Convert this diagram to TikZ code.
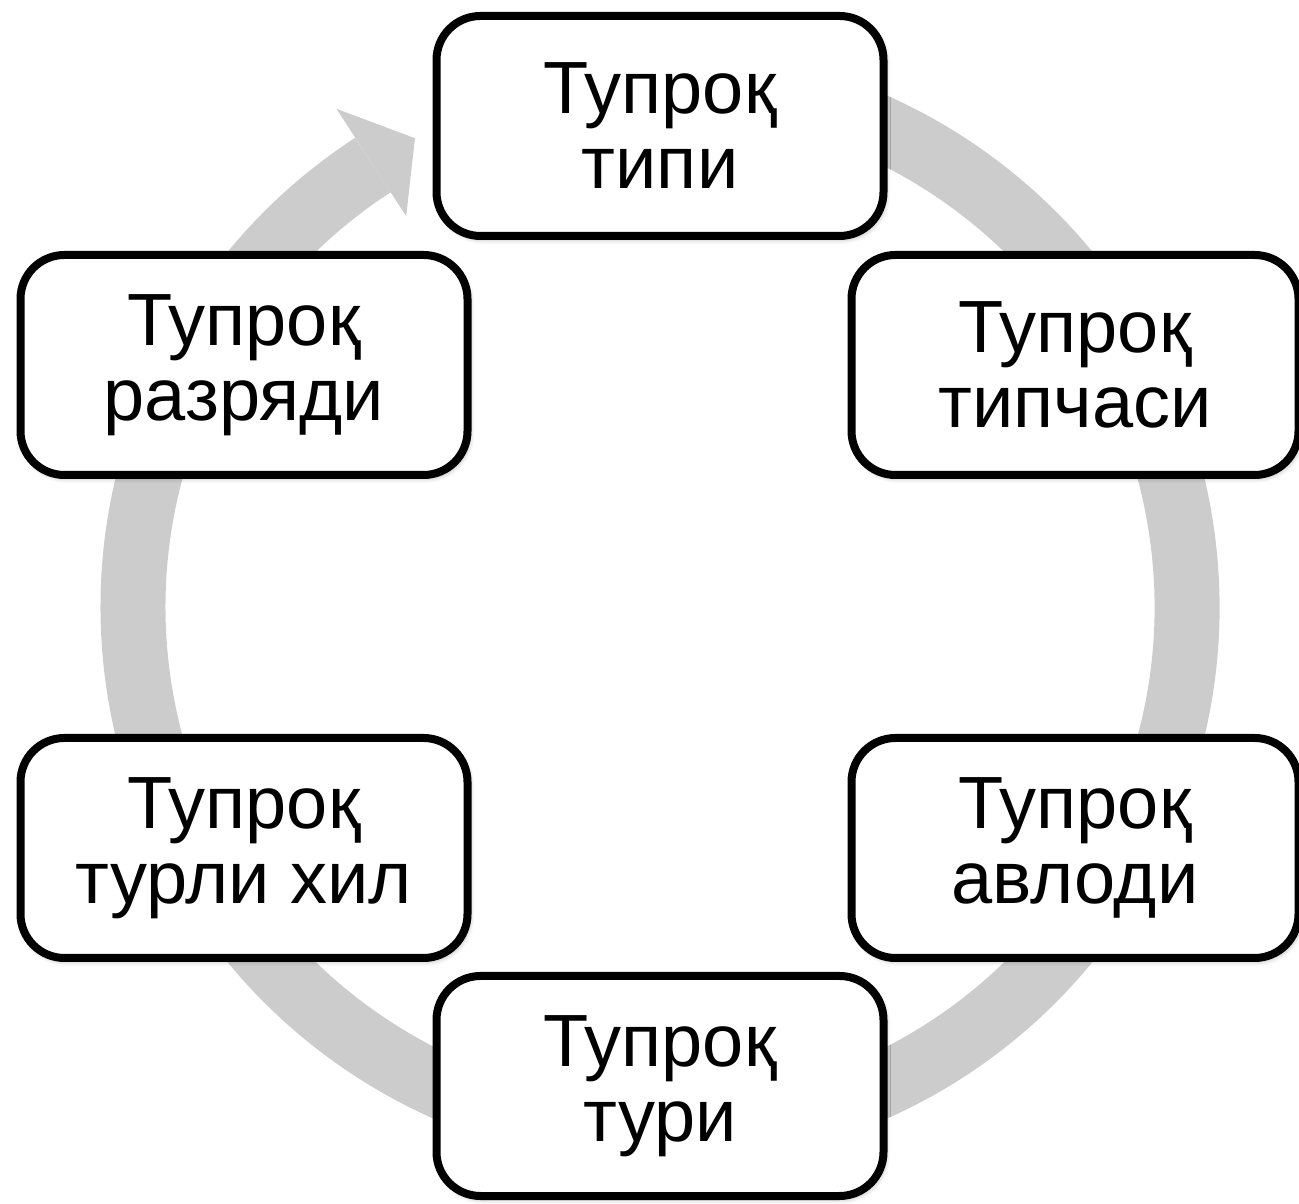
\documentclass[tikz,border=0pt]{standalone}
\usepackage{fontspec}
\setmainfont{Liberation Sans}
\usepackage{tikz}
\usetikzlibrary{positioning,shadows.blur}
\definecolor{ringgray}{RGB}{204,204,204}
\tikzset{
  ring/.style={draw=ringgray, line width=32.5pt},
  ringhead/.style={fill=ringgray},
  soilbox/.style={draw, fill=white, line width=4pt, rounded corners=22pt, align=center,
    minimum width=223.5pt, minimum height=110pt, inner sep=2pt,
    font=\fontsize{37pt}{37.5pt}\selectfont,
    blur shadow={shadow xshift=1pt, shadow yshift=-1.5pt, shadow blur radius=2.5pt, shadow opacity=35}}
}
\begin{document}
\begin{tikzpicture}[x=0.5pt, y=0.5pt]
  \useasboundingbox (0,0) rectangle (1299,1203);
  \coordinate (mid) at (660,596);

  % Ring with its arrow head
  \draw[ring] (mid) ++(100:527) arc[start angle=100, end angle=-237, radius=527];
  \fill[ringhead] (mid) ++(123:594) coordinate (hl)
    (mid) ++(117.6:529) coordinate (ht)
    (mid) ++(123:466) coordinate (hr);
  \fill[ringhead] (hl) -- (ht) -- (hr) -- cycle;

  % Six boxes round the ring
  \node[soilbox] (tip) at (660,1077) {Тупроқ\\типи};
  \node[soilbox] (tipcha) at (1075,838) {Тупроқ\\типчаси};
  \node[soilbox] (avlod) at (1075,355) {Тупроқ\\авлоди};
  \node[soilbox] (tur) at (660,117) {Тупроқ\\тури};
  \node[soilbox] (xil) at (244,355) {Тупроқ\\турли хил};
  \node[soilbox] (razryad) at (244,838) {Тупроқ\\разряди};
\end{tikzpicture}
\end{document}
